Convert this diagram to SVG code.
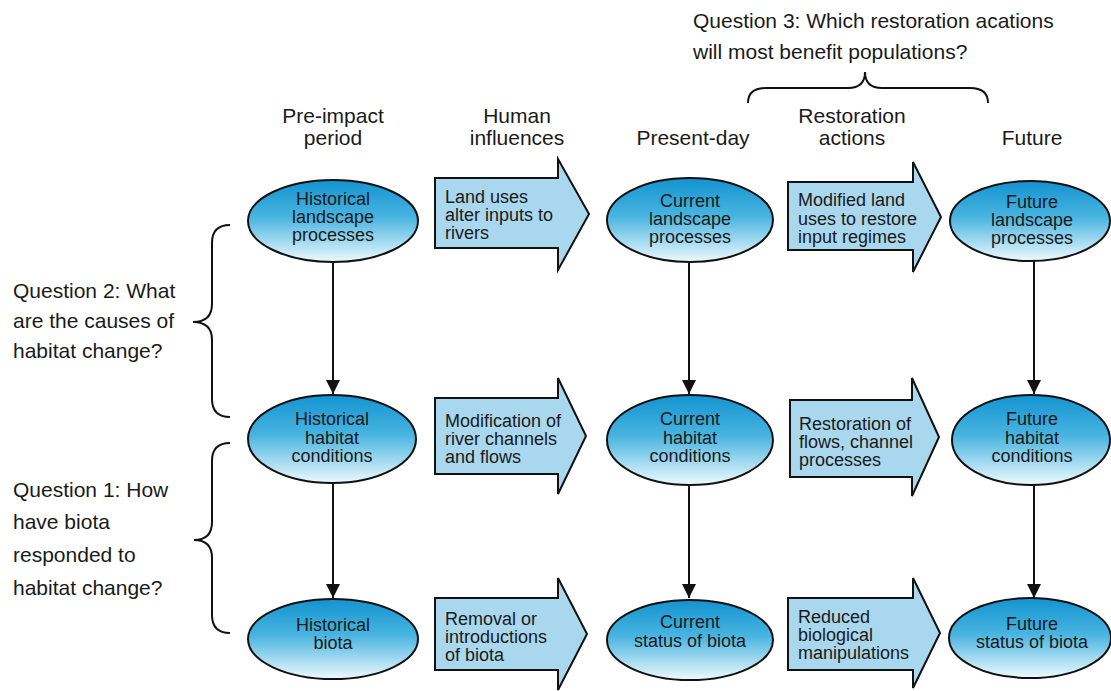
<svg xmlns="http://www.w3.org/2000/svg" width="1111" height="691" viewBox="0 0 1111 691">
  <defs>
    <linearGradient id="nodeFill" x1="0" y1="0" x2="0" y2="1">
      <stop offset="0" stop-color="#1393d0"/>
      <stop offset="0.45" stop-color="#48b4e0"/>
      <stop offset="1" stop-color="#eef9fd"/>
    </linearGradient>
    <marker id="arrowHead" viewBox="0 0 14 16" refX="14" refY="8" markerWidth="14" markerHeight="16" markerUnits="userSpaceOnUse" orient="auto">
      <path d="M0,1 L14,8 L0,15 Z" fill="#111"/>
    </marker>
    <style>
      text { font-family: "Liberation Sans", Arial, sans-serif; fill: #1a1a1a; }
      .head { font-size: 21px; text-anchor: middle; }
      .question { font-size: 21px; }
      .label { font-size: 18px; text-anchor: middle; }
      .arrowtext { font-size: 18px; }
      .node ellipse { fill: url(#nodeFill); stroke: #111; stroke-width: 2; }
      .flow path { fill: #a9d7ee; stroke: #111; stroke-width: 2; stroke-linejoin: miter; }
      .brace { fill: none; stroke: #111; stroke-width: 2; }
      .link { stroke: #111; stroke-width: 2; fill: none; marker-end: url(#arrowHead); }
    </style>
  </defs>

  <rect x="0" y="0" width="1111" height="691" fill="#ffffff"/>

  <!-- column headers -->
  <g id="headers">
    <text class="head" x="333" y="123">Pre-impact</text>
    <text class="head" x="333" y="145">period</text>
    <text class="head" x="517" y="123">Human</text>
    <text class="head" x="517" y="145">influences</text>
    <text class="head" x="693" y="145">Present-day</text>
    <text class="head" x="852" y="123">Restoration</text>
    <text class="head" x="852" y="145">actions</text>
    <text class="head" x="1032" y="145">Future</text>
  </g>

  <!-- questions with braces -->
  <g id="question3">
    <text class="question" x="693" y="28">Question 3: Which restoration acations</text>
    <text class="question" x="693" y="59">will most benefit populations?</text>
    <path class="brace" d="M748,103 Q748,88 766,88 L848,88 Q865,88 865,72 Q865,88 882,88 L970,88 Q988,88 988,103"/>
  </g>
  <g id="question2">
    <text class="question" x="13" y="298">Question 2: What</text>
    <text class="question" x="13" y="328">are the causes of</text>
    <text class="question" x="13" y="358">habitat change?</text>
    <path class="brace" d="M230,225 Q212,225 212,243 L212,304 Q212,322 193,322 Q212,322 212,340 L212,399 Q212,417 230,417"/>
  </g>
  <g id="question1">
    <text class="question" x="13" y="497">Question 1: How</text>
    <text class="question" x="13" y="529">have biota</text>
    <text class="question" x="13" y="562">responded to</text>
    <text class="question" x="13" y="595">habitat change?</text>
    <path class="brace" d="M230,443 Q212,443 212,461 L212,522 Q212,540 194,540 Q212,540 212,558 L212,615 Q212,633 230,633"/>
  </g>

  <!-- vertical connectors -->
  <g id="connectors">
    <line class="link" x1="333" y1="262" x2="333" y2="394"/>
    <line class="link" x1="333" y1="484" x2="333" y2="598"/>
    <line class="link" x1="689" y1="262" x2="689" y2="394"/>
    <line class="link" x1="689" y1="485" x2="689" y2="598"/>
    <line class="link" x1="1034" y1="261" x2="1034" y2="394"/>
    <line class="link" x1="1034" y1="484" x2="1034" y2="598"/>
  </g>

  <!-- pre-impact column -->
  <g id="hist-landscape" class="node">
    <ellipse cx="333" cy="221" rx="85" ry="41"/>
    <text class="label" x="333" y="205">Historical</text>
    <text class="label" x="333" y="223">landscape</text>
    <text class="label" x="333" y="241">processes</text>
  </g>
  <g id="hist-habitat" class="node">
    <ellipse cx="332" cy="439" rx="84" ry="44"/>
    <text class="label" x="332" y="425">Historical</text>
    <text class="label" x="332" y="444">habitat</text>
    <text class="label" x="332" y="462">conditions</text>
  </g>
  <g id="hist-biota" class="node">
    <ellipse cx="333" cy="639" rx="85" ry="40"/>
    <text class="label" x="333" y="631">Historical</text>
    <text class="label" x="333" y="649">biota</text>
  </g>

  <!-- human influence arrows -->
  <g id="land-uses" class="flow">
    <path d="M435,178 L558,178 L558,159 L589,214 L558,270 L558,248 L435,248 Z"/>
    <text class="arrowtext" x="445" y="203">Land uses</text>
    <text class="arrowtext" x="445" y="221">alter inputs to</text>
    <text class="arrowtext" x="445" y="239">rivers</text>
  </g>
  <g id="channel-mod" class="flow">
    <path d="M435,398 L558,398 L558,378 L586,436 L558,494 L558,474 L435,474 Z"/>
    <text class="arrowtext" x="445" y="427">Modification of</text>
    <text class="arrowtext" x="445" y="445">river channels</text>
    <text class="arrowtext" x="445" y="463">and flows</text>
  </g>
  <g id="biota-change" class="flow">
    <path d="M435,598 L558,598 L558,578 L587,634 L558,690 L558,670 L435,670 Z"/>
    <text class="arrowtext" x="445" y="625">Removal or</text>
    <text class="arrowtext" x="445" y="643">introductions</text>
    <text class="arrowtext" x="445" y="661">of biota</text>
  </g>

  <!-- present-day column -->
  <g id="cur-landscape" class="node">
    <ellipse cx="690" cy="220" rx="83" ry="42"/>
    <text class="label" x="690" y="207">Current</text>
    <text class="label" x="690" y="225">landscape</text>
    <text class="label" x="690" y="243">processes</text>
  </g>
  <g id="cur-habitat" class="node">
    <ellipse cx="690" cy="440" rx="83" ry="45"/>
    <text class="label" x="690" y="425">Current</text>
    <text class="label" x="690" y="444">habitat</text>
    <text class="label" x="690" y="462">conditions</text>
  </g>
  <g id="cur-biota" class="node">
    <ellipse cx="690" cy="640" rx="83" ry="40"/>
    <text class="label" x="690" y="628">Current</text>
    <text class="label" x="690" y="647">status of biota</text>
  </g>

  <!-- restoration action arrows -->
  <g id="restore-inputs" class="flow">
    <path d="M788,182 L913,182 L913,162 L941,217 L913,272 L913,250 L788,250 Z"/>
    <text class="arrowtext" x="798" y="206">Modified land</text>
    <text class="arrowtext" x="798" y="225">uses to restore</text>
    <text class="arrowtext" x="798" y="243">input regimes</text>
  </g>
  <g id="restore-flows" class="flow">
    <path d="M790,400 L912,400 L912,378 L939,437 L912,496 L912,477 L790,477 Z"/>
    <text class="arrowtext" x="799" y="430">Restoration of</text>
    <text class="arrowtext" x="799" y="448">flows, channel</text>
    <text class="arrowtext" x="799" y="466">processes</text>
  </g>
  <g id="reduce-manip" class="flow">
    <path d="M788,598 L913,598 L913,578 L940,633 L913,688 L913,670 L788,670 Z"/>
    <text class="arrowtext" x="798" y="623">Reduced</text>
    <text class="arrowtext" x="798" y="641">biological</text>
    <text class="arrowtext" x="798" y="659">manipulations</text>
  </g>

  <!-- future column -->
  <g id="fut-landscape" class="node">
    <ellipse cx="1030" cy="221" rx="80" ry="40"/>
    <text class="label" x="1032" y="208">Future</text>
    <text class="label" x="1032" y="226">landscape</text>
    <text class="label" x="1032" y="244">processes</text>
  </g>
  <g id="fut-habitat" class="node">
    <ellipse cx="1031" cy="440" rx="79" ry="45"/>
    <text class="label" x="1032" y="425">Future</text>
    <text class="label" x="1032" y="444">habitat</text>
    <text class="label" x="1032" y="462">conditions</text>
  </g>
  <g id="fut-biota" class="node">
    <ellipse cx="1030" cy="638" rx="81" ry="40"/>
    <text class="label" x="1032" y="630">Future</text>
    <text class="label" x="1032" y="648">status of biota</text>
  </g>
</svg>
